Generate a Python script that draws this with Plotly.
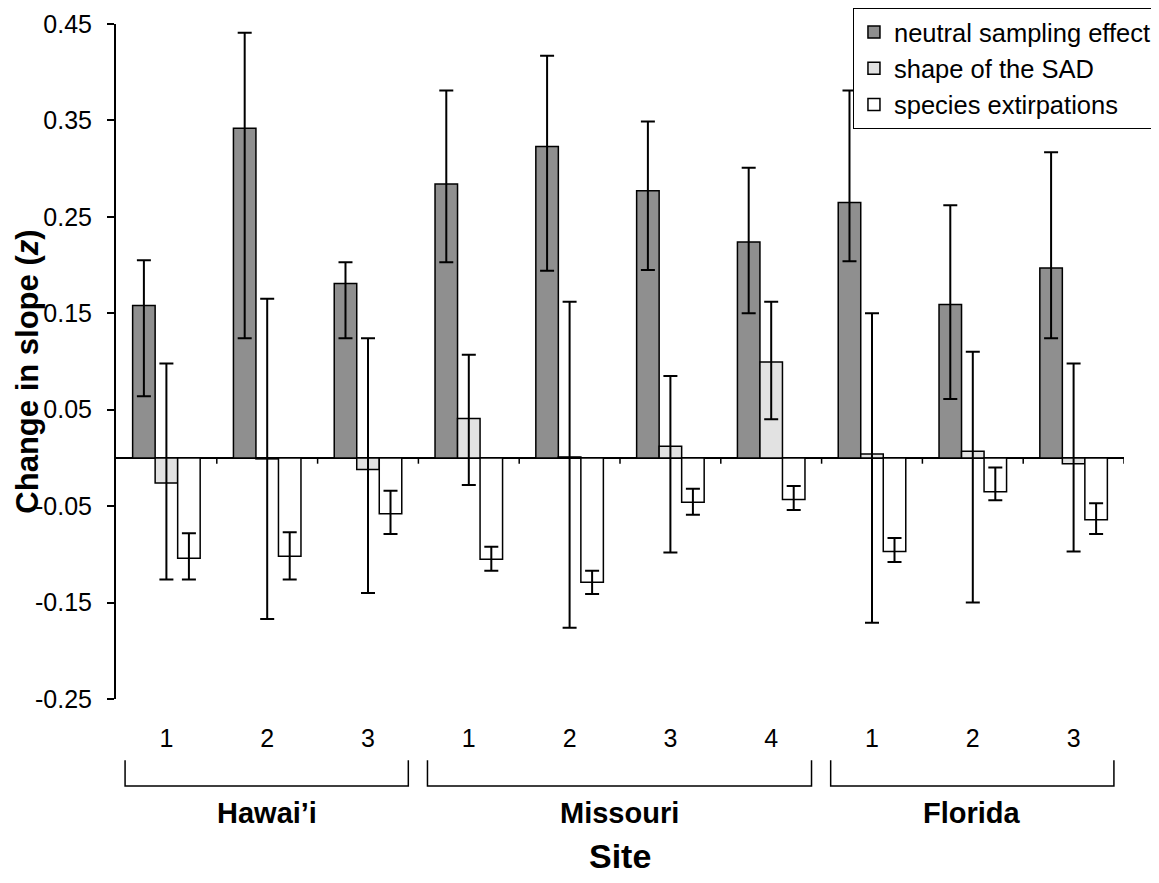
import plotly.graph_objects as go

# ---- data ----
site_labels = ["1", "2", "3", "1", "2", "3", "4", "1", "2", "3"]
regions = ["Hawai’i", "Missouri", "Florida"]
region_sizes = [3, 4, 3]

neutral = [0.158, 0.342, 0.181, 0.284, 0.323, 0.277, 0.224, 0.265, 0.159, 0.197]
neutral_hi = [0.205, 0.441, 0.203, 0.381, 0.417, 0.349, 0.301, 0.381, 0.262, 0.317]
neutral_lo = [0.064, 0.124, 0.124, 0.203, 0.194, 0.195, 0.150, 0.204, 0.061, 0.124]

shape = [-0.026, -0.001, -0.012, 0.041, 0.001, 0.012, 0.0995, 0.004, 0.007, -0.006]
shape_hi = [0.098, 0.165, 0.124, 0.107, 0.162, 0.085, 0.162, 0.150, 0.110, 0.098]
shape_lo = [-0.126, -0.167, -0.140, -0.028, -0.176, -0.098, 0.040, -0.171, -0.150, -0.097]

extirp = [-0.104, -0.102, -0.058, -0.105, -0.129, -0.046, -0.043, -0.097, -0.035, -0.064]
extirp_hi = [-0.078, -0.077, -0.034, -0.092, -0.117, -0.032, -0.029, -0.083, -0.010, -0.047]
extirp_lo = [-0.126, -0.126, -0.079, -0.117, -0.141, -0.059, -0.054, -0.108, -0.044, -0.079]

series_names = ["neutral sampling effect", "shape of the SAD", "species extirpations"]
y_ticks = [-0.25, -0.15, -0.05, 0.05, 0.15, 0.25, 0.35, 0.45]

# ---- styling ----
FONT = "Liberation Sans, Arial, Helvetica, sans-serif"
colors = ["#8f8f8f", "#e2e2e2", "#ffffff"]
xs = list(range(len(site_labels)))

fig = go.Figure()
for name, vals, hi, lo, col in zip(
    series_names,
    [neutral, shape, extirp],
    [neutral_hi, shape_hi, extirp_hi],
    [neutral_lo, shape_lo, extirp_lo],
    colors,
):
    fig.add_trace(go.Bar(
        x=xs, y=vals, name=name,
        marker=dict(color=col, line=dict(color="black", width=1.5)),
        error_y=dict(type="data", symmetric=False,
                     array=[h - v for h, v in zip(hi, vals)],
                     arrayminus=[v - l for v, l in zip(vals, lo)],
                     color="black", thickness=2, width=7),
    ))

shapes = []
# small ticks on the zero line at category boundaries
for k in range(len(site_labels)):
    shapes.append(dict(type="line", xref="x", yref="y", x0=k + 0.5, x1=k + 0.5,
                       y0=0, y1=-0.006, line=dict(color="black", width=1.5)))

# region brackets
y_top, y_bot = -0.0909, -0.129
annotations = []
start = 0
for reg, n in zip(regions, region_sizes):
    x0 = start - 0.41
    x1 = start + n - 1 + 0.40
    shapes.append(dict(type="path", xref="x", yref="paper",
                       path=f"M {x0},{y_top} L {x0},{y_bot} L {x1},{y_bot} L {x1},{y_top}",
                       line=dict(color="black", width=1.5)))
    annotations.append(dict(text=f"<b>{reg}</b>", x=(x0 + x1) / 2, xref="x",
                            y=-0.1695, yref="paper", showarrow=False,
                            xanchor="center", yanchor="middle",
                            font=dict(family=FONT, size=29, color="black")))
    start += n

annotations.append(dict(text="<b>Site</b>", x=0.5, xref="paper", y=-0.232, yref="paper",
                        showarrow=False, xanchor="center", yanchor="middle",
                        font=dict(family=FONT, size=34, color="black")))
annotations.append(dict(text="<b>Change in slope (<i>z</i>)</b>", x=-0.0873, xref="paper",
                        y=0.485, yref="paper", textangle=-90, showarrow=False,
                        xanchor="center", yanchor="middle",
                        font=dict(family=FONT, size=31, color="black")))

# page body has an 8px margin, so the figure is sized/offset to compensate
fig.update_layout(
    width=1151, height=875,
    margin=dict(l=108, r=35, t=16, b=184.3, pad=0, autoexpand=False),
    paper_bgcolor="white", plot_bgcolor="white",
    barmode="group", bargap=0.33, bargroupgap=0,
    font=dict(family=FONT, color="black", size=25),
    showlegend=True,
    legend=dict(x=1.0327, xanchor="right", y=1.0237, yanchor="top",
                bgcolor="white", bordercolor="black", borderwidth=1,
                font=dict(family=FONT, size=25.5, color="black"),
                itemwidth=30, tracegroupgap=0),
    shapes=shapes, annotations=annotations,
    xaxis=dict(range=[-0.5, 9.5], tickmode="array", tickvals=xs, ticktext=site_labels,
               showline=False, ticks="", showgrid=False, zeroline=False,
               tickfont=dict(family=FONT, size=25, color="black"),
               ticklabelstandoff=22, automargin=False),
    yaxis=dict(range=[-0.25, 0.45], tickmode="array", tickvals=y_ticks,
               ticktext=[f"{t:.2f}" for t in y_ticks],
               showline=True, linecolor="black", linewidth=2,
               ticks="outside", ticklen=7, tickwidth=2, tickcolor="black",
               showgrid=False, zeroline=True, zerolinecolor="black", zerolinewidth=2,
               tickfont=dict(family=FONT, size=25, color="black"),
               ticklabelstandoff=10, automargin=False),
)

fig.write_html("out.html")
